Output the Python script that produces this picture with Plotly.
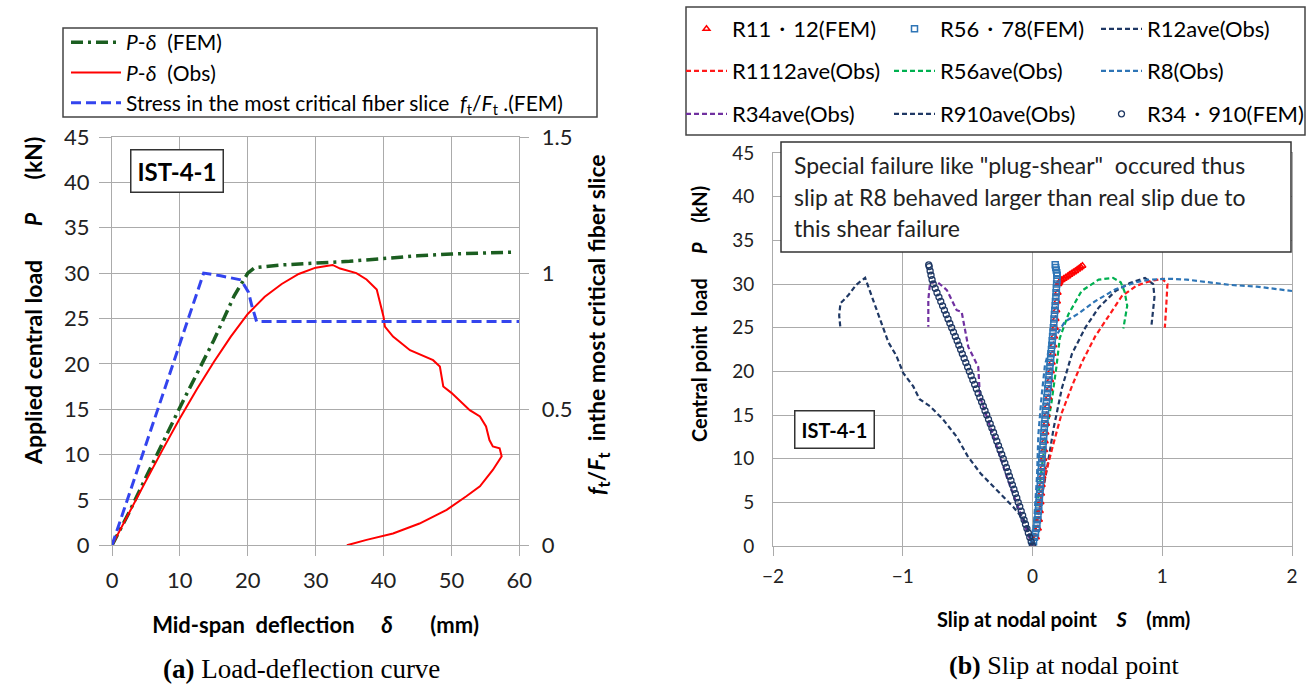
import plotly.graph_objects as go

W, H = 1313, 688

# ---------------- (a) Load-deflection data ----------------
obs_delta = [0, 2.5, 5, 7.5, 10, 12.5, 15, 17.5, 20, 22.5, 25, 27.5, 30, 32.5, 33.6, 36, 37.5,
             39, 39.5, 40, 40.2, 41.4, 43.9, 47.3, 48.3, 48.8, 50, 51.5, 52.7, 54.2, 55.1, 55.6,
             56.1, 57.1, 57.4, 56.1, 54.2, 52.2, 49.3, 45.3, 41.4, 37.5, 34.6]
obs_P = [0, 3.6, 7.1, 10.6, 14, 17.2, 20.2, 23, 25.5, 27.4, 28.8, 29.9, 30.6, 30.9, 30.5, 30,
         29.3, 28.2, 26.7, 25.2, 24.1, 23, 21.5, 20.4, 19.7, 17.5, 16.8, 15.7, 14.9, 14.2, 13.1,
         11.6, 10.9, 10.7, 9.8, 8.3, 6.5, 5.4, 3.9, 2.4, 1.3, 0.6, 0]

fem_delta = [0, 2.5, 5, 10, 15, 18, 20, 21, 25, 30, 35, 40, 45, 50, 55, 59]
fem_P = [0, 3.6, 7.5, 15.2, 22.6, 27.5, 30.0, 30.6, 30.9, 31.1, 31.3, 31.6, 31.9, 32.1, 32.2, 32.3]

stress_delta = [0, 13.5, 16, 19, 20.1, 20.6, 21.3, 60]
stress_ratio = [0, 1.0, 0.99, 0.975, 0.93, 0.88, 0.822, 0.822]

# ---------------- (b) Slip data ----------------
r12_s = [0, 0.05, 0.112, 0.163, 0.227, 0.304, 0.407, 0.51, 0.64, 0.75, 0.867, 0.93, 0.94, 0.915]
r12_P = [0, 4, 8.9, 13.5, 18.1, 22, 25, 27.3, 29.2, 30.1, 30.7, 30.0, 28.5, 25]

r1112_s = [0, 0.05, 0.096, 0.163, 0.227, 0.304, 0.38, 0.483, 0.585, 0.688, 0.8, 0.9, 1.0, 1.04, 1.03, 1.02]
r1112_P = [0, 4, 8, 11.8, 15.3, 18.3, 21, 24, 26.3, 28.6, 29.8, 30.3, 30.6, 30, 27.3, 25]

r56_s = [0, 0.04, 0.08, 0.115, 0.148, 0.186, 0.21, 0.276, 0.378, 0.51, 0.62, 0.68, 0.71, 0.73, 0.70]
r56_P = [0, 5, 10, 13.6, 16.6, 20.7, 23.8, 26.5, 29.2, 30.5, 30.7, 30.2, 29.1, 27.5, 24.9]

r8_s = [0, 0.02, 0.035, 0.045, 0.071, 0.096, 0.14, 0.2, 0.25, 0.353, 0.48, 0.64, 0.8, 0.9,
        1.06, 1.19, 1.34, 1.52, 1.73, 1.88, 2.0]
r8_P = [0, 4, 8, 12.7, 17.3, 20.7, 23.2, 24.5, 25.7, 26.6, 28.0, 29.4, 30.2, 30.5, 30.6, 30.5,
        30.2, 29.9, 29.7, 29.4, 29.2]

r34_s = [0, -0.1, -0.2, -0.3, -0.405, -0.418, -0.495, -0.546, -0.584, -0.66, -0.738, -0.79, -0.803, -0.803]
r34_P = [0, 4, 8, 12.5, 17.1, 20.5, 22.8, 26.8, 27.0, 29.3, 30.3, 30.1, 28.2, 25.1]

r910_s = [0, -0.045, -0.15, -0.276, -0.4, -0.5, -0.584, -0.69, -0.79, -0.87, -0.92, -0.996, -1.05,
          -1.11, -1.175, -1.22, -1.27, -1.29, -1.36, -1.42, -1.48, -1.49, -1.48]
r910_P = [0, 2.6, 4.5, 6.4, 8.3, 10.3, 12.5, 14.5, 16, 16.8, 18.3, 19.8, 21.8, 23.3, 26.0, 28,
          29.9, 30.7, 29.9, 28.7, 27.8, 26.4, 24.9]

fem3410_P = [0, 0.5, 1, 1.5, 2, 2.5, 3, 3.5, 4, 4.5, 5, 5.5, 6, 6.5, 7, 7.5, 8, 8.5, 9, 9.5,
             10, 10.5, 11, 11.5, 12, 12.5, 13, 13.5, 14, 14.5, 15, 15.5, 16, 16.5, 17, 17.5,
             18, 18.5, 19, 19.5, 20, 20.5, 21, 21.5, 22, 22.5, 23, 23.5, 24, 24.5, 25, 25.5,
             26, 26.5, 27, 27.5, 28, 28.5, 29, 29.5, 30, 30.5, 31, 31.5, 32, 32.2]
fem3410_s = [0, -0.010, -0.021, -0.032, -0.043, -0.054, -0.065, -0.076, -0.087, -0.098,
             -0.110, -0.121, -0.132, -0.143, -0.155, -0.166, -0.178, -0.189, -0.201, -0.213,
             -0.225, -0.237, -0.250, -0.262, -0.275, -0.287, -0.300, -0.313, -0.326, -0.339,
             -0.353, -0.366, -0.379, -0.392, -0.406, -0.419, -0.433, -0.446, -0.460, -0.473,
             -0.487, -0.500, -0.514, -0.527, -0.541, -0.554, -0.568, -0.581, -0.595, -0.609,
             -0.623, -0.637, -0.651, -0.665, -0.679, -0.693, -0.707, -0.721, -0.736, -0.750,
             -0.765, -0.774, -0.782, -0.789, -0.796, -0.800]

fem5678_P = [0, 0.5, 1, 1.5, 2, 2.5, 3, 3.5, 4, 4.5, 5, 5.5, 6, 6.5, 7, 7.5, 8, 8.5, 9, 9.5,
             10, 10.5, 11, 11.5, 12, 12.5, 13, 13.5, 14, 14.5, 15, 15.5, 16, 16.5, 17, 17.5,
             18, 18.5, 19, 19.5, 20, 20.5, 21, 21.5, 22, 22.5, 23, 23.5, 24, 24.5, 25, 25.5,
             26, 26.5, 27, 27.5, 28, 28.5, 29, 29.5, 30, 30.5, 31, 31.3, 31.6, 31.9, 32.2]
fem5678_s = [0, 0.008, 0.015, 0.023, 0.030, 0.034, 0.038, 0.042, 0.045, 0.048, 0.050, 0.053,
             0.055, 0.058, 0.060, 0.063, 0.065, 0.067, 0.069, 0.071, 0.072, 0.075, 0.078, 0.081,
             0.083, 0.086, 0.088, 0.091, 0.093, 0.096, 0.098, 0.101, 0.104, 0.108, 0.111, 0.115,
             0.118, 0.121, 0.124, 0.127, 0.130, 0.134, 0.137, 0.140, 0.143, 0.146, 0.149, 0.152,
             0.155, 0.158, 0.161, 0.164, 0.166, 0.169, 0.172, 0.175, 0.177, 0.180, 0.182, 0.184,
             0.186, 0.188, 0.190, 0.187, 0.183, 0.179, 0.175]

fem1112_P = [0, 1, 2, 3, 4, 5, 6, 7, 8, 9, 10, 11, 12, 13, 14, 15, 16, 17, 18, 19, 20, 21, 22,
             23, 24, 25, 26, 27, 28, 29, 30, 30.15, 30.3, 30.45, 30.6, 30.75, 30.9, 31.05, 31.2,
             31.35, 31.5, 31.65, 31.8, 31.95, 32.1]
fem1112_s = [0, 0.027, 0.042, 0.05, 0.057, 0.062, 0.067, 0.072, 0.077, 0.081, 0.084, 0.09,
             0.095, 0.1, 0.105, 0.11, 0.116, 0.123, 0.13, 0.136, 0.142, 0.149, 0.155, 0.161,
             0.167, 0.173, 0.178, 0.184, 0.189, 0.194, 0.2, 0.205, 0.21, 0.225, 0.24, 0.255,
             0.27, 0.285, 0.30, 0.315, 0.33, 0.345, 0.36, 0.372, 0.385]

FONT = "Lato"
GRID = "#ababab"
NAVY = "#1f3864"
NB = "\u00a0"


def px(x):
    return x / W


def py(y):
    return 1 - y / H


fig = go.Figure()

# ----- (a) traces -----
fig.add_trace(go.Scatter(x=fem_delta, y=fem_P, mode="lines", name="<i>P</i>-<i>δ</i>  (FEM)",
                         line=dict(color="#1b5e20", width=3.5, dash="12px,5px,3px,5px"),
                         xaxis="x", yaxis="y", legend="legend", legendrank=1, legendgroup="a1"))
fig.add_trace(go.Scatter(x=stress_delta, y=stress_ratio, mode="lines",
                         name="Stress in the most critical fiber slice  <i>f</i><sub>t</sub>/<i>F</i><sub>t</sub> .(FEM)",
                         line=dict(color="#3344ee", width=3, dash="10px,5px"),
                         xaxis="x", yaxis="y2", legend="legend", legendrank=3, legendgroup="a3"))
fig.add_trace(go.Scatter(x=obs_delta, y=obs_P, mode="lines", name="<i>P</i>-<i>δ</i>  (Obs)",
                         line=dict(color="#ff0000", width=2),
                         xaxis="x", yaxis="y", legend="legend", legendrank=2, legendgroup="a2"))

# ----- (b) traces -----
dash_b = "5px,3px"
obs_b = [
    ("R12ave(Obs)", r12_s, r12_P, NAVY, "legend2", 3),
    ("R1112ave(Obs)", r1112_s, r1112_P, "#ff1a1a", "legend3", 4),
    ("R56ave(Obs)", r56_s, r56_P, "#00b050", "legend3", 5),
    ("R8(Obs)", r8_s, r8_P, "#2e75b6", "legend3", 6),
    ("R34ave(Obs)", r34_s, r34_P, "#7030a0", "legend4", 7),
    ("R910ave(Obs)", r910_s, r910_P, NAVY, "legend4", 8),
]
colw = {3: 160, 4: 152, 5: 151, 6: 160, 7: 152, 8: 151}
for name, sx, sy, col, lg, rank in obs_b:
    fig.add_trace(go.Scatter(x=sx, y=sy, mode="lines", name=name,
                             line=dict(color=col, width=2.2, dash=dash_b),
                             xaxis="x2", yaxis="y3", legend=lg, legendrank=rank,
                             legendwidth=colw[rank]))

fig.add_trace(go.Scatter(x=fem1112_s, y=fem1112_P, mode="markers", name="R11・12(FEM)",
                         marker=dict(symbol="triangle-up-open", size=6, color="#ff0000",
                                     line=dict(width=1.5)),
                         xaxis="x2", yaxis="y3", legend="legend2", legendrank=1, legendwidth=152))
fig.add_trace(go.Scatter(x=fem5678_s, y=fem5678_P, mode="markers", name="R56・78(FEM)",
                         marker=dict(symbol="square-open", size=6, color="#2e75b6",
                                     line=dict(width=1.5)),
                         xaxis="x2", yaxis="y3", legend="legend2", legendrank=2, legendwidth=151))
fig.add_trace(go.Scatter(x=fem3410_s, y=fem3410_P, mode="markers", name="R34・910(FEM)",
                         marker=dict(symbol="circle-open", size=6, color=NAVY,
                                     line=dict(width=1.3)),
                         xaxis="x2", yaxis="y3", legend="legend4", legendrank=9, legendwidth=160))

tick_a = dict(family=FONT, size=22, color="#222")
tick_b = dict(family=FONT, size=19, color="#222")
axis_common = dict(showgrid=True, gridcolor=GRID, gridwidth=1, zeroline=False,
                   showline=True, linecolor=GRID, linewidth=1, mirror=True, tickcolor=GRID)

leg_common = dict(xanchor="left", yanchor="middle", orientation="h", itemwidth=41,
                  bgcolor="rgba(0,0,0,0)", borderwidth=0, font=dict(family=FONT, size=22))

fig.update_layout(
    width=W, height=H, margin=dict(l=0, r=0, t=0, b=0, autoexpand=False),
    paper_bgcolor="white", plot_bgcolor="white",
    font=dict(family=FONT, size=18, color="black"),
    xaxis=dict(domain=[px(112), px(519.3)], range=[0, 60], dtick=10, anchor="y",
               ticks="outside", ticklen=10, ticklabelstandoff=5, tickfont=tick_a,
               title=dict(text="<b>Mid-span" + NB * 2 + "deflection" + NB * 5 + "<i>δ</i>"
                               + NB * 7 + "(mm)</b>",
                          font=dict(family=FONT, size=22), standoff=25),
               **axis_common),
    yaxis=dict(domain=[py(545.3), py(137)], range=[0, 45], dtick=5, anchor="x",
               ticks="outside", ticklen=12, ticklabelstandoff=5, tickfont=tick_a, **axis_common),
    yaxis2=dict(overlaying="y", side="right", anchor="x", range=[0, 1.5], dtick=0.5,
                showgrid=False, zeroline=False, showline=False, tickfont=tick_a,
                ticks="outside", ticklen=9, tickcolor=GRID, ticklabelstandoff=8),
    xaxis2=dict(domain=[px(773), px(1292)], range=[-2, 2], dtick=1, anchor="y3",
                ticks="outside", ticklen=9, ticklabelstandoff=4, tickfont=tick_b,
                **axis_common),
    yaxis3=dict(domain=[py(546), py(153)], range=[0, 45], dtick=5, anchor="x2",
                ticks="", ticklabelstandoff=14, tickfont=tick_b, **axis_common),
    legend=dict(x=px(66), y=py(22), xanchor="left", yanchor="top", orientation="v",
                bgcolor="rgba(0,0,0,0)", borderwidth=0, itemwidth=50,
                traceorder="grouped", tracegroupgap=0,
                font=dict(family=FONT, size=21)),
    legend2=dict(x=px(681), y=py(29), **leg_common),
    legend3=dict(x=px(681), y=py(71), **leg_common),
    legend4=dict(x=px(681), y=py(114), **leg_common),
    showlegend=True,
)

# legend frames and note box
fig.add_shape(type="rect", xref="paper", yref="paper", x0=px(63), x1=px(597), y0=py(117), y1=py(28),
              line=dict(color="#444", width=1.5), fillcolor="rgba(0,0,0,0)", layer="above")
fig.add_shape(type="rect", xref="paper", yref="paper", x0=px(686), x1=px(1305), y0=py(135), y1=py(7),
              line=dict(color="#444", width=1.5), fillcolor="rgba(0,0,0,0)", layer="above")
fig.add_shape(type="rect", xref="paper", yref="paper", x0=px(781), x1=px(1291), y0=py(252), y1=py(142),
              line=dict(color="#333", width=1.5), fillcolor="white", layer="above")

note_lines = ['Special failure like "plug-shear"  occured thus',
              'slip at R8 behaved larger than real slip due to',
              'this shear failure']
for t, yy in zip(note_lines, [165, 197, 228]):
    fig.add_annotation(text=t, xref="paper", yref="paper", x=px(792), y=py(yy),
                       xanchor="left", yanchor="middle", showarrow=False,
                       font=dict(family=FONT, size=23, color="#222"))

# IST-4-1 labels
fig.add_annotation(text="<b>IST-4-1</b>", xref="paper", yref="paper", x=px(176.5), y=py(171),
                   xanchor="center", yanchor="middle",
                   showarrow=False, font=dict(family=FONT, size=24, color="black"),
                   bordercolor="#333", borderwidth=1.5, borderpad=6, bgcolor="white")
fig.add_annotation(text="<b>IST-4-1</b>", xref="paper", yref="paper", x=px(834), y=py(429),
                   xanchor="center", yanchor="middle",
                   showarrow=False, font=dict(family=FONT, size=20, color="black"),
                   bordercolor="#333", borderwidth=1.5, borderpad=6, bgcolor="white")

# axis titles placed as in the figure
fig.add_annotation(text="<b>Applied central load" + NB * 6 + "<i>P</i>" + NB * 6 + "(kN)</b>",
                   xref="paper", yref="paper", x=px(33), y=py(301),
                   xanchor="center", yanchor="middle", textangle=-90,
                   showarrow=False, font=dict(family=FONT, size=23, color="black"))
fig.add_annotation(text="<b><i>f</i><sub>t</sub>/<i>F</i><sub>t</sub>" + NB * 2
                        + "inthe most critical fiber slice</b>",
                   xref="paper", yref="paper", x=px(597), y=py(325),
                   xanchor="center", yanchor="middle", textangle=-90,
                   showarrow=False, font=dict(family=FONT, size=23, color="black"))
fig.add_annotation(text="<b>Central point" + NB * 2 + "load" + NB * 5 + "<i>P</i>" + NB * 4
                        + "(kN)</b>",
                   xref="paper", yref="paper", x=px(699), y=py(314),
                   xanchor="center", yanchor="middle", textangle=-90,
                   showarrow=False, font=dict(family=FONT, size=20, color="black"))
fig.add_annotation(text="<b>Slip at nodal point" + NB * 4 + "<i>S</i>" + NB * 4 + "(mm)</b>",
                   xref="paper", yref="paper", x=px(1063), y=py(619),
                   xanchor="center", yanchor="middle",
                   showarrow=False, font=dict(family=FONT, size=20, color="black"))

# captions
fig.add_annotation(text="<b>(a)</b> Load-deflection curve", xref="paper", yref="paper",
                   x=px(301), y=py(669), xanchor="center", yanchor="middle", showarrow=False,
                   font=dict(family="Liberation Serif", size=27, color="black"))
fig.add_annotation(text="<b>(b)</b> Slip at nodal point", xref="paper", yref="paper",
                   x=px(1064), y=py(665), xanchor="center", yanchor="middle", showarrow=False,
                   font=dict(family="Liberation Serif", size=26, color="black"))

fig.write_html("out.html")
